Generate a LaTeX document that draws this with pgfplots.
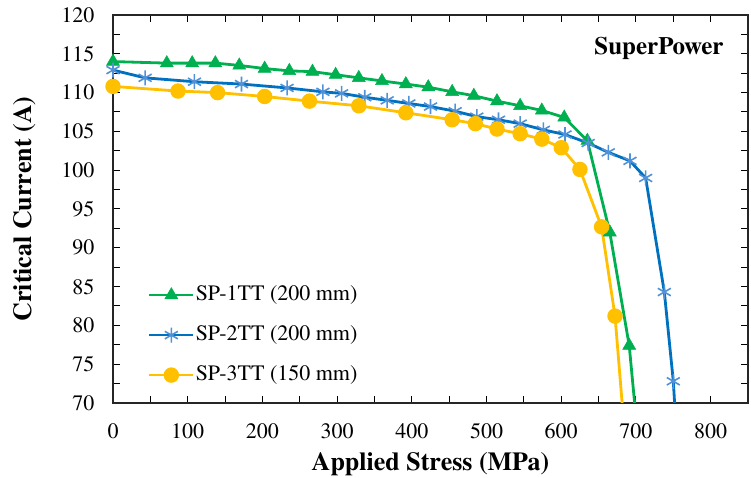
\documentclass[border=0pt]{standalone}
\usepackage{fontspec}
\setmainfont{texgyretermes}[Extension=.otf, UprightFont=*-regular, BoldFont=*-bold, ItalicFont=*-italic, BoldItalicFont=*-bolditalic]
\usepackage{pgfplots}
\pgfplotsset{compat=1.18}
\definecolor{cgreen}{RGB}{0,176,80}
\definecolor{cblue}{RGB}{0,112,192}
\definecolor{cstar}{RGB}{80,145,215}
\definecolor{cyellow}{RGB}{255,192,0}
\begin{document}
\begin{tikzpicture}
\useasboundingbox (0,0) rectangle (751pt,478pt);
\begin{axis}[
  at={(113pt,75pt)}, anchor=south west,
  scale only axis, width=635pt, height=388pt,
  xmin=0, xmax=850, ymin=70, ymax=120,
  xtick={0,100,...,800}, ytick={70,75,...,120},
  minor x tick num=1, minor y tick num=1,
  tick align=inside, tick pos=both,
  major tick length=7pt, minor tick length=7pt,
  every tick/.style={black, line width=1pt},
  axis line style={line width=1.2pt, black!85},
  /pgf/number format/assume math mode=true,
  ticklabel style={font=\fontsize{22}{26}\selectfont},
  xticklabel style={yshift=-17pt},
  yticklabel style={xshift=-15pt},
  xlabel={\textbf{Applied Stress (MPa)}},
  ylabel={\textbf{Critical Current (A)}},
  label style={font=\fontsize{26}{30}\selectfont},
  xlabel style={at={(axis description cs:0.5,-0.173)}, anchor=base},
  ylabel style={at={(axis description cs:-0.139,0.5)}, anchor=center},
  legend style={draw=none, fill=none, at={(0.05,0.175)}, anchor=west, font=\fontsize{22}{26}\selectfont, row sep=17pt, nodes={text height=16pt, text depth=5pt, inner sep=1pt}},
  legend cell align=left,
  legend image code/.code={\draw[mark repeat=2,mark phase=2,#1] plot coordinates {(0pt,0pt) (22pt,0pt) (44pt,0pt)};},
  clip=true,
]
\addplot[cgreen, line width=2.8pt, mark=triangle*, mark size=7.5pt, mark options={solid, fill=cgreen, line width=0.5pt}] coordinates {
(0,114.0) (72,113.8) (106,113.8) (137,113.8) (169,113.5) (203,113.1) (236,112.8) (267,112.7) (298,112.3) (329,111.9) (360,111.5) (392,111.1) (422,110.7) (454,110.1) (483,109.6) (514,108.9) (545,108.3) (574,107.7) (604,106.8) (635,103.8) (665,92.0) (691,77.4) (708,60)
};
\addlegendentry{SP-1TT (200 mm)}
\addplot[cblue, line width=2.8pt, mark=asterisk, mark size=7.5pt, mark options={solid, cstar, line width=1.6pt}] coordinates {
(0,112.9) (43,111.9) (109,111.4) (172,111.1) (233,110.6) (281,110.1) (306,109.9) (337,109.4) (367,109.0) (396,108.6) (425,108.2) (458,107.6) (487,106.9) (516,106.5) (545,106.0) (576,105.2) (605,104.6) (636,103.5) (663,102.3) (692,101.2) (713,99.0) (738,84.3) (750,72.8) (758,60)
};
\addlegendentry{SP-2TT (200 mm)}
\addplot[cyellow, line width=2.8pt, mark=*, mark size=6.3pt, mark options={solid, fill=cyellow, draw=cyellow}] coordinates {
(0,110.8) (87,110.2) (140,110.0) (203,109.5) (263,108.9) (329,108.3) (392,107.4) (454,106.5) (485,106.0) (514,105.3) (545,104.7) (574,104.0) (600,102.9) (625,100.1) (654,92.7) (672,81.2) (690,60)
};
\addlegendentry{SP-3TT (150 mm)}
\node[anchor=base east, font=\fontsize{25}{30}\selectfont\bfseries] at (axis cs:822,114.85) {SuperPower};
\end{axis}
\end{tikzpicture}
\end{document}
